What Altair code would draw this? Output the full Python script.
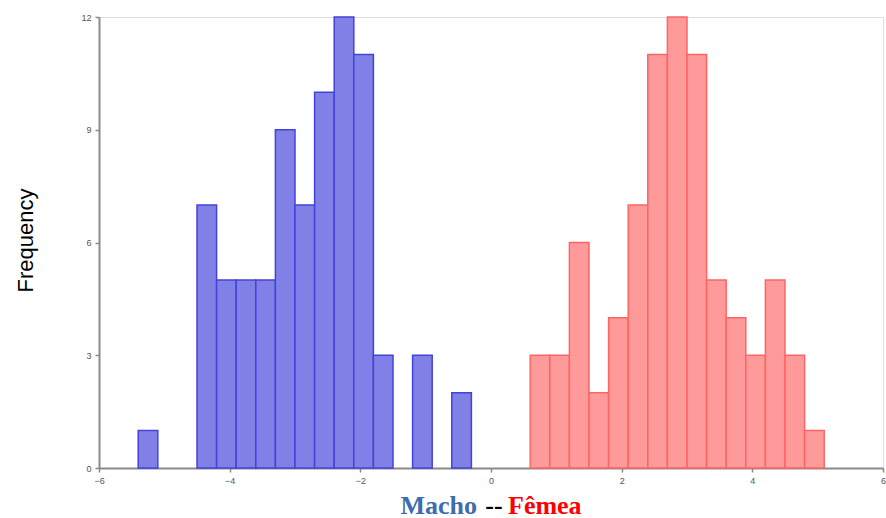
import altair as alt
import pandas as pd

# Histogram bins (bin width 0.3)
bin_width = 0.3
macho_start = [-5.4, -4.5, -4.2, -3.9, -3.6, -3.3, -3.0, -2.7, -2.4, -2.1, -1.8, -1.2, -0.6]
macho_count = [1, 7, 5, 5, 5, 9, 7, 10, 12, 11, 3, 3, 2]
femea_start = [0.6, 0.9, 1.2, 1.5, 1.8, 2.1, 2.4, 2.7, 3.0, 3.3, 3.6, 3.9, 4.2, 4.5, 4.8]
femea_count = [3, 3, 6, 2, 4, 7, 11, 12, 11, 5, 4, 3, 5, 3, 1]

x_ticks = [-6, -4, -2, 0, 2, 4, 6]
y_ticks = [0, 3, 6, 9, 12]

macho = pd.DataFrame({
    "start": macho_start,
    "end": [round(s + bin_width, 2) for s in macho_start],
    "count": macho_count,
})
femea = pd.DataFrame({
    "start": femea_start,
    "end": [round(s + bin_width, 2) for s in femea_start],
    "count": femea_count,
})

W, H = 784, 451

x_enc = alt.X(
    "start:Q",
    scale=alt.Scale(domain=[-6, 6], nice=False, zero=False),
    axis=alt.Axis(values=x_ticks, format="d", title=None, grid=False, labelFontSize=9,
                  labelColor="#555555", domainColor="#8a8a8a", domainWidth=2,
                  tickColor="#8a8a8a", tickSize=4, tickWidth=1.5, labelPadding=4,
                  labelFont="Liberation Sans", labelFlush=False),
)
y_enc = alt.Y(
    "count:Q",
    scale=alt.Scale(domain=[0, 12], nice=False),
    axis=alt.Axis(values=y_ticks, format="d", title="Frequency", grid=False, labelFontSize=9,
                  labelColor="#555555", domainColor="#8a8a8a", domainWidth=2,
                  tickColor="#8a8a8a", tickSize=4, tickWidth=1.5, labelPadding=4,
                  labelFont="Liberation Sans",
                  titleFont="Liberation Sans", titleFontSize=22, titleFontWeight="normal",
                  titleColor="#000000", titleX=-74, titleY=223, titleAngle=-90,
                  titleBaseline="middle", titleAlign="center"),
)

bars_m = alt.Chart(macho).mark_rect(
    fill="#8080e6", stroke="#4343da", strokeWidth=1.5
).encode(x=x_enc, x2="end:Q", y=y_enc, y2=alt.datum(0))

bars_f = alt.Chart(femea).mark_rect(
    fill="#ff9a9a", stroke="#ff6464", strokeWidth=1.5
).encode(x="start:Q", x2="end:Q", y="count:Q", y2=alt.datum(0))

title_font = "Liberation Serif"
t1 = alt.Chart(pd.DataFrame({"t": ["Macho"]})).mark_text(
    font=title_font, fontSize=26, fontWeight="bold", color="#3f6cad",
    align="right", baseline="alphabetic"
).encode(text="t:N", x=alt.value(378), y=alt.value(497))
t2 = alt.Chart(pd.DataFrame({"t": ["--"]})).mark_text(
    font=title_font, fontSize=26, fontWeight="bold", color="#000000",
    align="center", baseline="alphabetic"
).encode(text="t:N", x=alt.value(395), y=alt.value(497))
t3 = alt.Chart(pd.DataFrame({"t": ["Fêmea"]})).mark_text(
    font=title_font, fontSize=26, fontWeight="bold", color="#ff0000",
    align="left", baseline="alphabetic"
).encode(text="t:N", x=alt.value(409), y=alt.value(497))

chart = alt.layer(bars_m, bars_f, t1, t2, t3).properties(
    width=W, height=H,
    autosize=alt.AutoSizeParams(type="none"),
    padding={"left": 99, "top": 17, "right": 3, "bottom": 50},
).configure_view(stroke=None).configure(background="white")

chart.save("out.html", embed_options={"renderer": "svg", "actions": False})
